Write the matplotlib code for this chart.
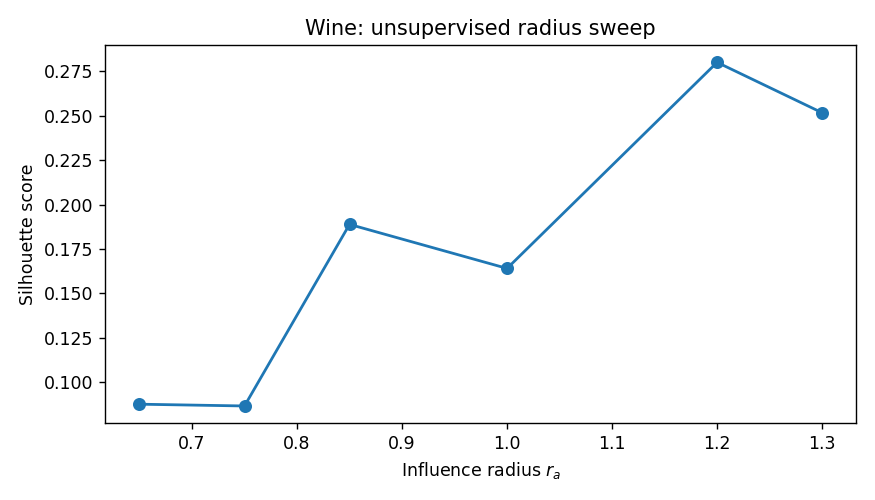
import numpy as np
import matplotlib.pyplot as plt

radius = [0.65, 0.75, 0.85, 1.0, 1.2, 1.3]
silhouette = [0.0875, 0.0865, 0.1888, 0.1640, 0.2801, 0.2517]

fig, ax = plt.subplots(figsize=(7, 4), dpi=125)
ax.plot(radius, silhouette, marker='o', linewidth=1.6, markersize=6.5)
ax.set_title('Wine: unsupervised radius sweep')
ax.set_xlabel('Influence radius $r_a$')
ax.set_ylabel('Silhouette score')
fig.tight_layout()
fig.savefig('out.png')
